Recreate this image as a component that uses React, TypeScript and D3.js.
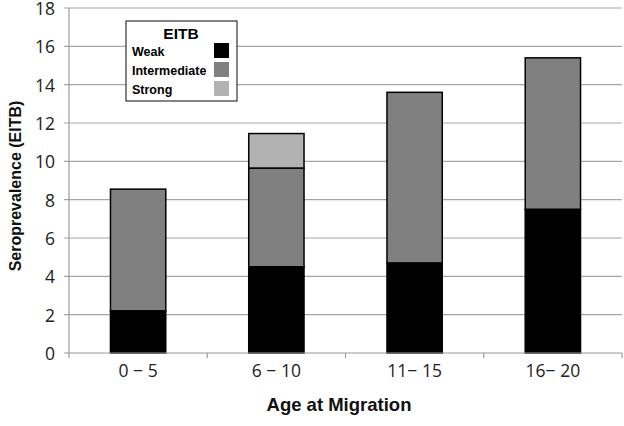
import React from 'react'
import * as d3 from 'd3'

// age groups and stacked EITB seroprevalence values (%)
const categories = ['0 \u2212 5', '6 \u2212 10', '11\u2212 15', '16\u2212 20']
const weak = [2.2, 4.5, 4.7, 7.5]
const intermediate = [6.35, 5.15, 8.9, 7.9]
const strong = [0, 1.8, 0, 0]
const seriesNames = ['Weak', 'Intermediate', 'Strong']
const seriesColors = ['#000000', '#808080', '#b2b2b2']
const yTicks = [0, 2, 4, 6, 8, 10, 12, 14, 16, 18]

const width = 624
const height = 426
const margin = { top: 8, right: 2, bottom: 73, left: 69 }

export default function App() {
  const x = d3
    .scaleBand()
    .domain(categories)
    .range([margin.left, width - margin.right])
    .paddingInner(0.6)
    .paddingOuter(0.3)

  const y = d3
    .scaleLinear()
    .domain([0, 18])
    .range([height - margin.bottom, margin.top])

  const rows = categories.map((c, i) => ({
    cat: c,
    Weak: weak[i],
    Intermediate: intermediate[i],
    Strong: strong[i],
  }))
  const stacked = d3.stack<any>().keys(seriesNames)(rows)

  const step = (width - margin.right - margin.left) / categories.length
  const x0 = margin.left
  const x1 = width - margin.right
  const tickFont = '"Open Sans", "Noto Sans", sans-serif'
  const boldFont = '"Liberation Sans", Arial, sans-serif'

  return (
    <svg
      width={width}
      height={height}
      style={{ position: 'absolute', left: 0, top: 0, background: '#fff' }}
    >
      {/* gridlines and y ticks */}
      {yTicks.map(t => (
        <g key={t}>
          {t > 0 && (
            <line x1={x0 - 5} x2={x1} y1={y(t)} y2={y(t)} stroke="#a6a6a6" strokeWidth={1.2} />
          )}
          <text
            x={x0 - 14}
            y={y(t)}
            dy="0.4em"
            textAnchor="end"
            fontFamily={tickFont}
            fontSize={17.5}
            fill="#222"
          >
            {t}
          </text>
        </g>
      ))}

      {/* bars */}
      {stacked.map((layer, si) =>
        layer.map((d, i) =>
          d[1] - d[0] > 0 ? (
            <rect
              key={si + '-' + i}
              x={x(categories[i])}
              y={y(d[1])}
              width={x.bandwidth()}
              height={y(d[0]) - y(d[1])}
              fill={seriesColors[si]}
              stroke="#000"
              strokeWidth={1.5}
            />
          ) : null
        )
      )}

      {/* axes */}
      <line x1={x0} x2={x0} y1={y(18)} y2={y(0)} stroke="#9a9a9a" strokeWidth={1.2} />
      <line x1={x0 - 5} x2={x1} y1={y(0)} y2={y(0)} stroke="#9a9a9a" strokeWidth={1.2} />
      {d3.range(categories.length + 1).map(i => (
        <line
          key={i}
          x1={x0 + i * step}
          x2={x0 + i * step}
          y1={y(0)}
          y2={y(0) + 5}
          stroke="#9a9a9a"
          strokeWidth={1.2}
        />
      ))}
      {categories.map(c => (
        <text
          key={c}
          x={(x(c) as number) + x.bandwidth() / 2}
          y={y(0) + 24}
          textAnchor="middle"
          fontFamily={tickFont}
          fontSize={17.5}
          fill="#222"
        >
          {c}
        </text>
      ))}

      {/* axis titles */}
      <text
        x={339}
        y={411}
        textAnchor="middle"
        fontFamily={boldFont}
        fontWeight="bold"
        fontSize={18.5}
        fill="#111"
      >
        Age at Migration
      </text>
      <text
        transform={`translate(21,${186}) rotate(-90)`}
        textAnchor="middle"
        fontFamily={boldFont}
        fontWeight="bold"
        fontSize={16}
        fill="#111"
      >
        Seroprevalence (EITB)
      </text>

      {/* legend */}
      <g transform="translate(126,21)">
        <rect x={0} y={0} width={111} height={80} fill="#fff" stroke="#333" strokeWidth={1.2} />
        <text
          x={55}
          y={18}
          textAnchor="middle"
          fontFamily={boldFont}
          fontWeight="bold"
          fontSize={15.5}
          fill="#000"
        >
          EITB
        </text>
        {seriesNames.map((s, i) => (
          <g key={s} transform={`translate(0,${22 + i * 19})`}>
            <text x={6} y={13} fontFamily={boldFont} fontWeight="bold" fontSize={12.5} fill="#000">
              {s}
            </text>
            <rect x={88} y={0} width={15} height={15} fill={seriesColors[i]} />
          </g>
        ))}
      </g>
    </svg>
  )
}
